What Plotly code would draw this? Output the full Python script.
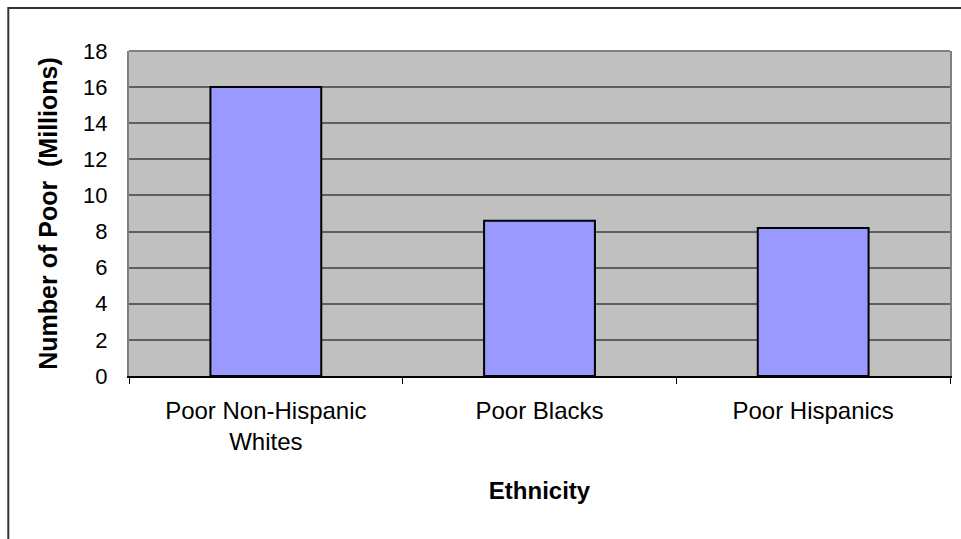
import plotly.graph_objects as go

# Number of people in poverty by ethnicity (millions)
categories = ["Poor Non-Hispanic<br>Whites", "Poor Blacks", "Poor Hispanics"]
poor_millions = [16.0, 8.6, 8.2]
y_ticks = [0, 2, 4, 6, 8, 10, 12, 14, 16, 18]

FONT = "Liberation Sans, Arial, sans-serif"

fig = go.Figure(
    go.Bar(
        x=categories,
        y=poor_millions,
        marker=dict(color="#9999FF", line=dict(color="#000000", width=2)),
        width=0.405,
    )
)

fig.update_layout(
    width=961,
    height=539,
    margin=dict(l=129, r=9, t=51, b=163),
    paper_bgcolor="white",
    plot_bgcolor="#C0C0C0",
    showlegend=False,
    font=dict(family=FONT, color="black"),
    xaxis=dict(
        type="category",
        showline=True,
        linecolor="black",
        linewidth=1.5,
        ticks="outside",
        tickson="boundaries",
        ticklen=6,
        tickcolor="black",
        tickfont=dict(size=24, family=FONT),
        ticklabelstandoff=12,
        title=dict(text="<b>Ethnicity</b>", font=dict(size=24, family=FONT), standoff=28),
        showgrid=False,
    ),
    yaxis=dict(
        range=[0, 18],
        tickvals=y_ticks,
        showline=True,
        linecolor="#808080",
        linewidth=2,
        mirror=True,
        ticks="",
        tickfont=dict(size=22, family=FONT),
        ticklabelstandoff=15,
        showgrid=True,
        gridcolor="#5f5f5f",
        gridwidth=1.5,
        zeroline=False,
        title=dict(text="<b>Number of Poor  (Millions)</b>", font=dict(size=25, family=FONT), standoff=18),
    ),
    shapes=[
        # top edge of the plotting area
        dict(type="line", xref="paper", yref="paper", x0=0, x1=1, y0=1, y1=1,
             line=dict(color="#808080", width=2)),
        # chart frame
        dict(type="rect", xref="paper", yref="paper",
             x0=(8 - 129) / 823, x1=(975 - 129) / 823,
             y0=(376 - 560) / 325, y1=1 + (51 - 8) / 325,
             line=dict(color="#333333", width=2), fillcolor="rgba(0,0,0,0)"),
    ],
)

fig.write_html("out.html")
